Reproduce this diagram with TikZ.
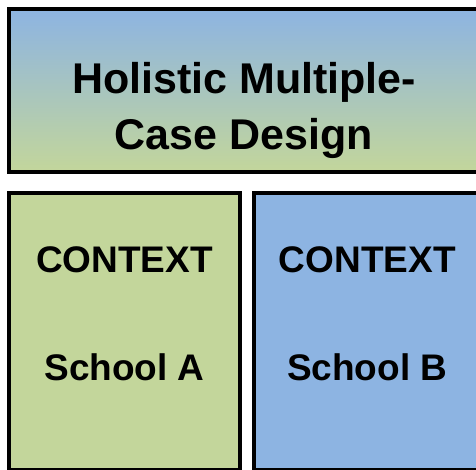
\documentclass[tikz,border=0pt]{standalone}
\usepackage{fontspec}
\setmainfont{Liberation Sans}
\definecolor{caseblue}{RGB}{141,180,226}
\definecolor{casegreen}{RGB}{195,214,155}
\begin{document}
\begin{tikzpicture}[x=1pt,y=-1pt,
  panel/.style={draw=black,line width=4pt,inner sep=0pt,outer sep=0pt,anchor=north west},
  bigtext/.style={font=\fontsize{43}{56}\selectfont\bfseries,anchor=base,inner sep=0pt},
  smalltext/.style={font=\fontsize{37}{44}\selectfont\bfseries,anchor=base,inner sep=0pt}]
\useasboundingbox (0,0) rectangle (476,470);
\node[panel,minimum width=470pt,minimum height=163pt,top color=caseblue,bottom color=casegreen] (design) at (9,9) {};
\node[bigtext] (titleone) at (244,93.5) {Holistic Multiple-};
\node[bigtext] (titletwo) at (244,150) {Case Design};
\coordinate (ctxrow) at (0,272.5);
\coordinate (schoolrow) at (0,380);
\foreach \n/\x/\w/\c in {A/9/231/casegreen,B/254/226.5/caseblue} {
  \node[panel,fill=\c,minimum width=\w pt,minimum height=277pt] (school\n) at (\x,193) {};
  \node[smalltext] (context\n) at (school\n.center |- ctxrow) {CONTEXT};
  \node[smalltext] (name\n) at (school\n.center |- schoolrow) {School \n};
}
\end{tikzpicture}
\end{document}
